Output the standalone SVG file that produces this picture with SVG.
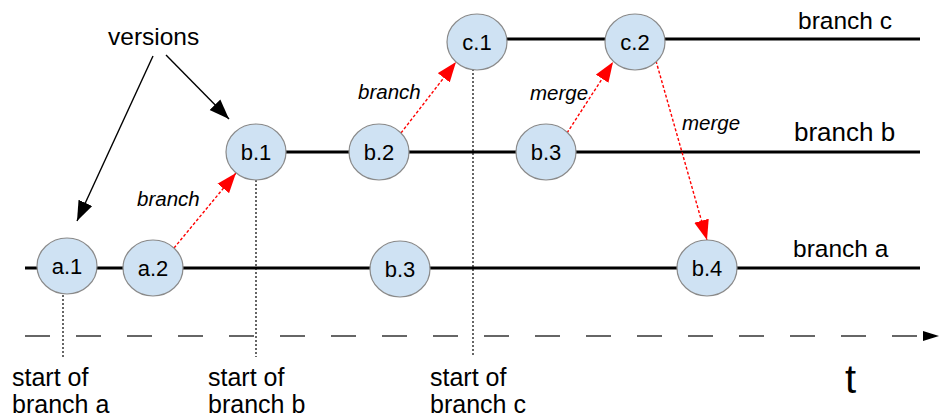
<svg xmlns="http://www.w3.org/2000/svg" width="939" height="419" viewBox="0 0 939 419">
<style>
.node ellipse{fill:#cfe2f3;stroke:#8a8a8a;stroke-width:1.2}
.node text{font-family:"Liberation Sans",Arial,sans-serif;font-size:22px;fill:#000;text-anchor:middle}
.lbl{font-family:"Liberation Sans",Arial,sans-serif;fill:#000}
.it{font-family:"Liberation Sans",Arial,sans-serif;font-style:italic;font-size:20.5px;fill:#000}
.branch{stroke:#000;stroke-width:2.8;fill:none}
.red{stroke:#ff0000;stroke-width:1.4;stroke-dasharray:3,2;fill:none;marker-end:url(#redArrow)}
.blk{stroke:#000;stroke-width:1.4;fill:none;marker-end:url(#blkArrow)}
.vdot{stroke:#000;stroke-width:1.2;stroke-dasharray:2,2;fill:none}
</style>
<defs>
<marker id="redArrow" markerUnits="userSpaceOnUse" markerWidth="22" markerHeight="16" refX="20" refY="8" orient="auto">
<path d="M0,0.5 L20,8 L0,15.5 z" fill="#ff0000"/>
</marker>
<marker id="blkArrow" markerUnits="userSpaceOnUse" markerWidth="22" markerHeight="16" refX="20" refY="8" orient="auto">
<path d="M0,0.5 L20,8 L0,15.5 z" fill="#000"/>
</marker>
<marker id="axArrow" markerUnits="userSpaceOnUse" markerWidth="18" markerHeight="12" refX="16" refY="6" orient="auto">
<path d="M0,1 L16,6 L0,11 z" fill="#000"/>
</marker>
</defs>
<rect width="939" height="419" fill="#fff"/>

<g id="connectors">
<line class="branch" x1="25" y1="268" x2="920" y2="268"/>
<line class="branch" x1="255" y1="152" x2="920" y2="152"/>
<line class="branch" x1="477" y1="39" x2="920" y2="39"/>
<line class="vdot" x1="63" y1="295" x2="63" y2="357"/>
<line class="vdot" x1="256" y1="180" x2="256" y2="357"/>
<line class="vdot" x1="473" y1="69" x2="473" y2="357" stroke="#444"/>
<line x1="25" y1="336" x2="939" y2="336" stroke="#666" stroke-width="2" stroke-dasharray="25,26" marker-end="url(#axArrow)"/>
<line class="red" x1="174" y1="248" x2="236" y2="173"/>
<line class="red" x1="401" y1="133" x2="456" y2="62"/>
<line class="red" x1="567" y1="133" x2="613" y2="62"/>
<line class="red" x1="656" y1="61" x2="707" y2="240"/>
<line class="blk" x1="153" y1="56" x2="77" y2="221"/>
<line class="blk" x1="166" y1="55" x2="229" y2="119"/>
</g>

<g id="a1" class="node"><ellipse cx="67" cy="266" rx="30" ry="28"/><text x="67" y="274">a.1</text></g>
<g id="a2" class="node"><ellipse cx="153" cy="268" rx="30" ry="28"/><text x="153" y="276">a.2</text></g>
<g id="b1" class="node"><ellipse cx="256" cy="152" rx="30" ry="28"/><text x="256" y="160">b.1</text></g>
<g id="b2" class="node"><ellipse cx="379" cy="152" rx="30" ry="28"/><text x="379" y="160">b.2</text></g>
<g id="b3up" class="node"><ellipse cx="546" cy="152" rx="30" ry="28"/><text x="546" y="160">b.3</text></g>
<g id="c1" class="node"><ellipse cx="477" cy="42" rx="30" ry="28"/><text x="477" y="50">c.1</text></g>
<g id="c2" class="node"><ellipse cx="635" cy="42" rx="30" ry="28"/><text x="635" y="50">c.2</text></g>
<g id="b3low" class="node"><ellipse cx="400" cy="269" rx="30" ry="28"/><text x="400" y="277">b.3</text></g>
<g id="b4" class="node"><ellipse cx="707" cy="268" rx="30" ry="28"/><text x="707" y="276">b.4</text></g>

<g id="labels">
<text class="lbl" x="798" y="29" font-size="24.5">branch c</text>
<text class="lbl" x="794" y="141" font-size="26">branch b</text>
<text class="lbl" x="793" y="257" font-size="24.5">branch a</text>
<text class="lbl" x="108" y="45" font-size="24.5">versions</text>
<text class="it" x="137" y="206">branch</text>
<text class="it" x="358" y="99">branch</text>
<text class="it" x="530" y="100">merge</text>
<text class="it" x="682" y="130">merge</text>
<text class="lbl" font-size="25" x="12" y="386">start of</text>
<text class="lbl" font-size="25" x="12" y="413">branch a</text>
<text class="lbl" font-size="25" x="208" y="386">start of</text>
<text class="lbl" font-size="25" x="208" y="413">branch b</text>
<text class="lbl" font-size="25" x="430" y="386">start of</text>
<text class="lbl" font-size="25" x="430" y="413">branch c</text>
<text class="lbl" font-size="40" x="845" y="393">t</text>
</g>
</svg>
